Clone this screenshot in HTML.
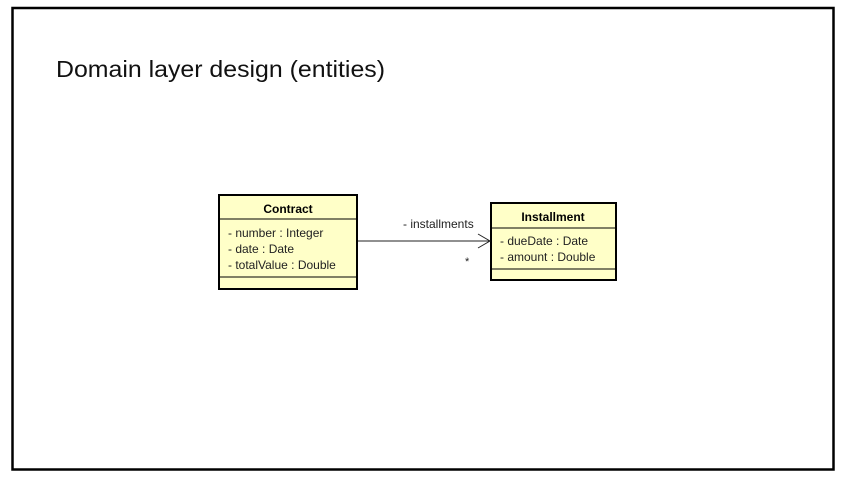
<!DOCTYPE html>
<html><head><style>html,body{margin:0;padding:0;background:#fff;}svg{display:block}</style></head>
<body>
<svg width="855" height="480" xmlns="http://www.w3.org/2000/svg" font-family="Liberation Sans, Arial, sans-serif">
<rect x="12.5" y="8" width="821" height="461.5" fill="#fff" stroke="#000" stroke-width="2.5"/>
<text x="56" y="77" font-size="23" textLength="329" lengthAdjust="spacingAndGlyphs" fill="#111">Domain layer design (entities)</text>

<rect x="219" y="195" width="138" height="94" fill="#ffffc8" stroke="#000" stroke-width="2"/>
<line x1="219" y1="219" x2="357" y2="219" stroke="#000" stroke-width="1"/>
<line x1="219" y1="277" x2="357" y2="277" stroke="#000" stroke-width="1"/>
<text x="288" y="213" font-size="12" font-weight="bold" text-anchor="middle">Contract</text>
<text x="228" y="237" font-size="12" fill="#222">- number : Integer</text>
<text x="228" y="253" font-size="12" fill="#222">- date : Date</text>
<text x="228" y="269" font-size="12" fill="#222">- totalValue : Double</text>

<rect x="491" y="203" width="125" height="77" fill="#ffffc8" stroke="#000" stroke-width="2"/>
<line x1="491" y1="228" x2="616" y2="228" stroke="#000" stroke-width="1"/>
<line x1="491" y1="269" x2="616" y2="269" stroke="#000" stroke-width="1"/>
<text x="553" y="221" font-size="12" font-weight="bold" text-anchor="middle">Installment</text>
<text x="500" y="245" font-size="12" fill="#222">- dueDate : Date</text>
<text x="500" y="261" font-size="12" fill="#222">- amount : Double</text>

<line x1="358" y1="241" x2="490" y2="241" stroke="#222" stroke-width="1"/>
<polyline points="478,234 490,241 478,248" fill="none" stroke="#222" stroke-width="1"/>
<text x="403" y="228" font-size="12" fill="#222">- installments</text>
<text x="465" y="265" font-size="11" fill="#222">*</text>
</svg>
</body></html>
